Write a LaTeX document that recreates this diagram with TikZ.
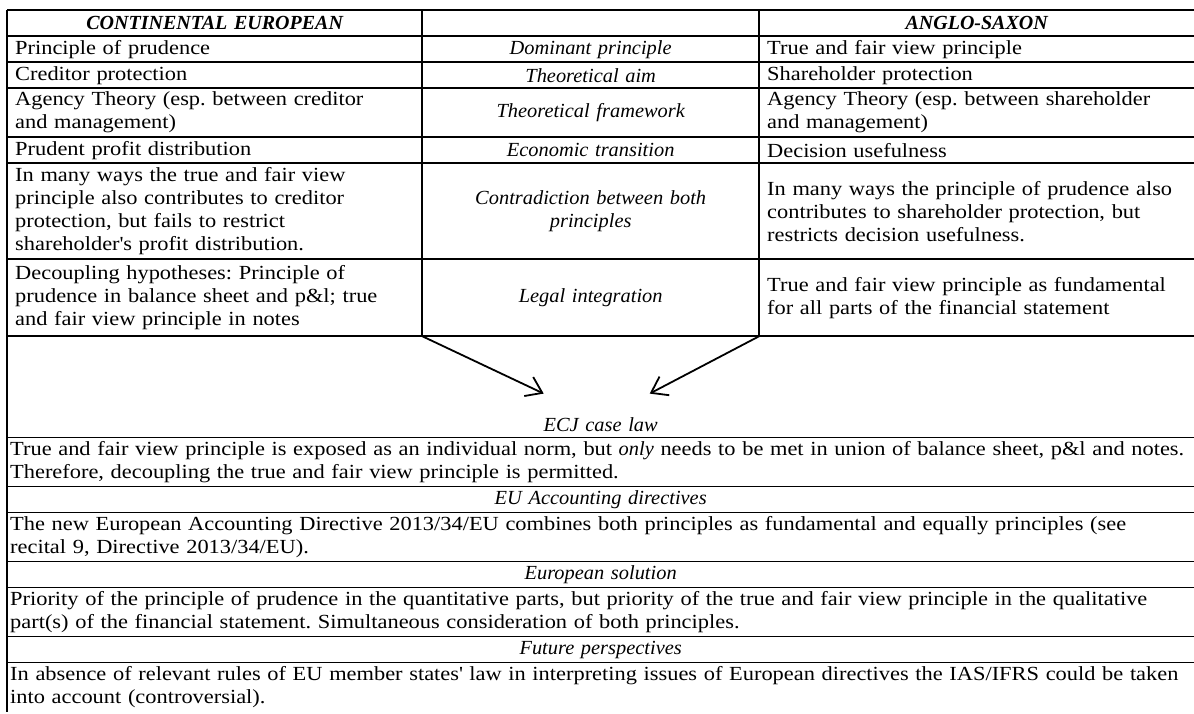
\documentclass[tikz,border=0pt]{standalone}
\usepackage{fontspec}
\setmainfont{Liberation Serif}[UprightFeatures={FakeStretch=1.12},BoldFeatures={FakeStretch=1.12},
	ItalicFeatures={FakeStretch=1.02},BoldItalicFeatures={FakeStretch=1.0}]
\usetikzlibrary{arrows.meta,matrix,positioning}
\frenchspacing
\tikzset{
	cell/.style={anchor=center,inner xsep=8pt,inner ysep=0pt,outer sep=0pt,font=\fontsize{20}{23}\selectfont},
	heading/.style={align=center,font=\fontsize{20}{23}\selectfont\itshape},
	rule/.style={line width=1.5pt},
	arr/.style={line width=1.8pt,-{Straight Barb[length=15pt,width=21pt]}}
}

\begin{document}
\begin{tikzpicture}[x=1pt,y=-1pt]
	\useasboundingbox (0,0) rectangle (1194,713);
	\matrix [matrix of nodes,nodes in empty cells,anchor=north west,inner sep=0pt,
		nodes={cell,minimum height=26pt},
		column 1/.style={nodes={text width=399pt,align=left}},
		column 2/.style={nodes={text width=321pt,heading}},
		column 3/.style={nodes={text width=419pt,align=left}},
		row 1/.style={nodes={align=center,font=\fontsize{20}{23}\selectfont\bfseries\itshape}},
		row 4/.style={nodes={minimum height=49pt}},
		row 6/.style={nodes={minimum height=96pt}},
		row 7/.style={nodes={minimum height=77pt}}] (tab) at (7,10)
	{
		CONTINENTAL EUROPEAN & & ANGLO-SAXON \\
		Principle of prudence & Dominant principle & True and fair view principle \\
		Creditor protection & Theoretical aim & Shareholder protection \\
		{Agency Theory (esp. between creditor\\and management)} & Theoretical framework & {Agency Theory (esp. between shareholder\\and management)} \\
		Prudent profit distribution & Economic transition & Decision usefulness \\
		{In many ways the true and fair view\\principle also contributes to creditor\\protection, but fails to restrict\\shareholder\textquotesingle s profit distribution.} & {Contradiction between both\\principles} & {In many ways the principle of prudence also\\contributes to shareholder protection, but\\restricts decision usefulness.} \\
		{Decoupling hypotheses: Principle of\\prudence in balance sheet and p\&l; true\\and fair view principle in notes} & Legal integration & {True and fair view principle as fundamental\\for all parts of the financial statement} \\
	};
	\matrix [matrix of nodes,nodes in empty cells,anchor=north west,inner sep=0pt,
		nodes={cell,minimum height=26pt},
		column 1/.style={nodes={text width=1181pt,inner xsep=3pt,align=left}},
		every odd row/.style={nodes={minimum height=49pt}},
		every even row/.style={nodes={heading}},
		row 1 column 1/.style={nodes={minimum height=75pt}}] (low) at (tab.south west)
	{
		\\
		ECJ case law \\
		{True and fair view principle is exposed as an individual norm, but \textit{only} needs to be met in union of balance sheet, p\&l and notes.\\Therefore, decoupling the true and fair view principle is permitted.} \\
		EU Accounting directives \\
		{The new European Accounting Directive 2013/34/EU combines both principles as fundamental and equally principles (see\\recital 9, Directive 2013/34/EU).} \\
		European solution \\
		{Priority of the principle of prudence in the quantitative parts, but priority of the true and fair view principle in the qualitative\\part(s) of the financial statement. Simultaneous consideration of both principles.} \\
		Future perspectives \\
		{In absence of relevant rules of EU member states\textquotesingle{} law in interpreting issues of European directives the IAS/IFRS could be taken\\into account (controversial).} \\
	};
	% table rules
	\draw[rule] (tab-1-1.north west) -- (tab-1-3.north east)
		(tab-1-1.south west) -- (tab-1-3.south east)
		(tab-2-1.south west) -- (tab-2-3.south east)
		(tab-3-1.south west) -- (tab-3-3.south east)
		(tab-4-1.south west) -- (tab-4-3.south east)
		(tab-5-1.south west) -- (tab-5-3.south east)
		(tab-6-1.south west) -- (tab-6-3.south east)
		(tab-7-1.south west) -- (tab-7-3.south east);
	\draw[rule] (low-2-1.south west) -- (low-2-1.south east)
		(low-3-1.south west) -- (low-3-1.south east)
		(low-4-1.south west) -- (low-4-1.south east)
		(low-5-1.south west) -- (low-5-1.south east)
		(low-6-1.south west) -- (low-6-1.south east)
		(low-7-1.south west) -- (low-7-1.south east)
		(low-8-1.south west) -- (low-8-1.south east);
	\draw[rule] (tab-1-1.north west) -- (low-9-1.south west)
		(tab-1-1.north east) -- (tab-7-1.south east)
		(tab-1-2.north east) -- (tab-7-2.south east);
	% arrows into the ECJ cell
	\coordinate (tipL) at ([shift={(-57,-31)}]low-2-1.center);
	\coordinate (tipR) at ([shift={(49,-31)}]low-2-1.center);
	\draw[arr] (tab-7-1.south east) -- (tipL);
	\draw[arr] (tab-7-2.south east) -- (tipR);
\end{tikzpicture}
\end{document}
